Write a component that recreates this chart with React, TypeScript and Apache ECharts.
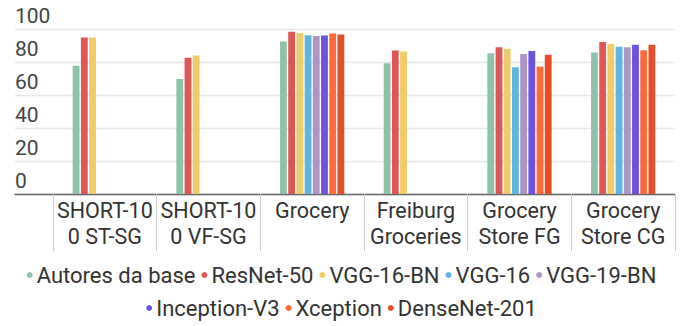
import React, { useEffect, useRef } from "react";
import * as echarts from "echarts";

const categories = [
  "SHORT-10\n0 ST-SG",
  "SHORT-10\n0 VF-SG",
  "Grocery",
  "Freiburg\nGroceries",
  "Grocery\nStore FG",
  "Grocery\nStore CG",
];

const seriesNames = [
  "Autores da base",
  "ResNet-50",
  "VGG-16-BN",
  "VGG-16",
  "VGG-19-BN",
  "Inception-V3",
  "Xception",
  "DenseNet-201",
];

const autores = [77.8, 69.7, 92.5, 79.2, 85.3, 85.7];
const resnet50 = [94.9, 82.6, 98.4, 86.9, 88.9, 92.1];
const vgg16bn = [94.8, 84.0, 97.6, 86.3, 88.1, 90.9];
const vgg16 = [null, null, 96.2, null, 76.8, 89.3];
const vgg19bn = [null, null, 95.8, null, 84.8, 88.9];
const inceptionV3 = [null, null, 96.0, null, 86.7, 90.5];
const xception = [null, null, 97.2, null, 77.2, 87.1];
const densenet201 = [null, null, 96.6, null, 84.4, 90.5];

const seriesData = [autores, resnet50, vgg16bn, vgg16, vgg19bn, inceptionV3, xception, densenet201];

const colors = ["#8fc3a8", "#de5757", "#f0cc6b", "#5db5e4", "#ae95c8", "#6d52de", "#ff6a3a", "#e34f26"];

const yTicks = { min: 0, max: 100, interval: 20 };

export default function App() {
  const ref = useRef<HTMLDivElement>(null);
  useEffect(() => {
    if (!ref.current) return;
    const chart = echarts.init(ref.current, null, { renderer: "svg" });
    const font = "Roboto";
    const legendBase = {
      left: "center",
      icon: "circle",
      itemWidth: 6,
      itemHeight: 6,
      itemGap: 6,
      textStyle: { fontSize: 22, color: "#333", fontFamily: font, padding: [0, 0, 0, -1] },
    };
    chart.setOption({
      animation: false,
      color: colors,
      textStyle: { fontFamily: font },
      grid: [
        { left: 15, right: 8, top: 29, bottom: 132, containLabel: false },
        { left: 53, right: 8, top: 29, bottom: 132, containLabel: false },
      ],
      xAxis: [
        {
          type: "value",
          gridIndex: 0,
          min: 0,
          max: 1,
          axisLine: { show: true, onZero: false, lineStyle: { color: "#666", width: 1.3 } },
          axisTick: { show: false },
          axisLabel: { show: false },
          splitLine: { show: false },
        },
        {
          type: "category",
          gridIndex: 1,
          data: categories,
          axisLine: { show: false },
          axisTick: { show: true, length: 57, lineStyle: { color: "#cccccc" } },
          axisLabel: {
            interval: 0,
            fontSize: 21.5,
            lineHeight: 26,
            color: "#333",
            margin: 3,
            fontFamily: font,
          },
        },
      ],
      yAxis: [
        {
          type: "value",
          gridIndex: 0,
          min: yTicks.min,
          max: yTicks.max,
          interval: yTicks.interval,
          axisLine: { show: false },
          axisTick: { show: false },
          splitLine: { show: true, lineStyle: { color: "#e6e6e6", width: 1.3 } },
          axisLabel: {
            inside: true,
            margin: 0,
            align: "left",
            verticalAlign: "bottom",
            padding: [0, 0, 3, 0],
            fontSize: 21,
            color: "#444",
            fontFamily: font,
          },
        },
        {
          type: "value",
          gridIndex: 1,
          min: yTicks.min,
          max: yTicks.max,
          interval: yTicks.interval,
          show: false,
          splitLine: { show: false },
        },
      ],
      legend: [
        { ...legendBase, top: 259, data: seriesNames.slice(0, 5) },
        { ...legendBase, top: 292, data: seriesNames.slice(5) },
      ],
      series: seriesNames.map((name, i) => ({
        name,
        type: "bar",
        xAxisIndex: 1,
        yAxisIndex: 1,
        data: seriesData[i],
        barGap: "20%",
        barCategoryGap: "38%",
        itemStyle: { color: colors[i] },
      })),
    });
    return () => chart.dispose();
  }, []);
  return <div ref={ref} style={{ width: 683, height: 326, position: "absolute", left: 0, top: 0 }} />;
}
